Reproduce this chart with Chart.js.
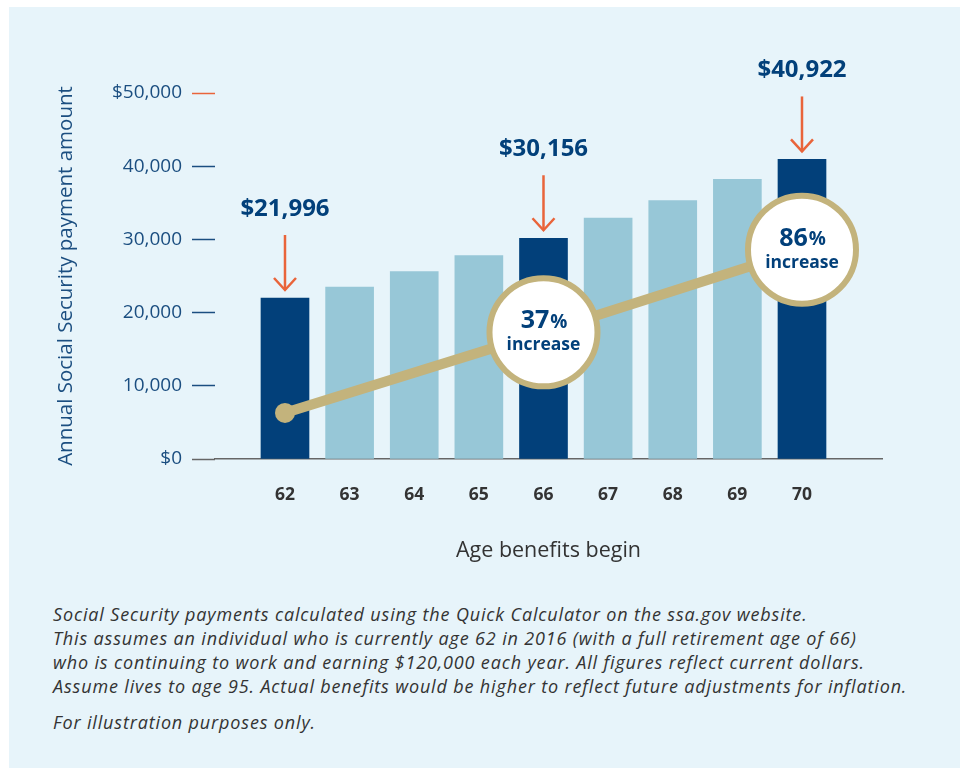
<!DOCTYPE html>
<html>
<head>
<meta charset="utf-8">
<title>Annual Social Security payment by age benefits begin</title>
<script src="https://cdn.jsdelivr.net/npm/chart.js@4"></script>
<style>
  body { margin: 0; background: #fff; font-family: 'Open Sans', sans-serif; }
  .panel { position: absolute; left: 9px; top: 7px; width: 951px; height: 761px; background: #e7f4fa; }
  .chartBox { position: absolute; left: 0; top: 0; width: 951px; height: 575px; }
  .notes { position: absolute; left: 44px; top: 595px; color: #333; font-style: italic; font-size: 18px; letter-spacing: 0.85px; line-height: 24px; white-space: nowrap; }
  .notes p { margin: 0 0 12px; }
</style>
</head>
<body>
<div class="panel">
  <div class="chartBox"><canvas id="chart" width="951" height="575"></canvas></div>
  <div class="notes">
    <p>Social Security payments calculated using the Quick Calculator on the ssa.gov website.<br>
    This assumes an individual who is currently age 62 in 2016 (with a full retirement age of 66)<br>
    who is continuing to work and earning $120,000 each year. All figures reflect current dollars.<br>
    Assume lives to age 95. Actual benefits would be higher to reflect future adjustments for inflation.</p>
    <p>For illustration purposes only.</p>
  </div>
</div>
<script>
const ages = [62, 63, 64, 65, 66, 67, 68, 69, 70];
const benefits = [21996, 23500, 25600, 27800, 30156, 32900, 35300, 38200, 40922];
const highlightAges = [62, 66, 70];
const trendAges = [62, 66, 70];
const trendValues = [6300, 17300, 28600];
const increaseLabels = ['', '37', '86'];
const yTicks = [0, 10000, 20000, 30000, 40000, 50000];

const NAVY = '#02407a';
const NAVY_TEXT = '#1b4e80';
const LIGHT = '#97c7d7';
const GOLD = '#c3b37c';
const ORANGE = '#e9643a';

Chart.defaults.font.family = "'Open Sans', sans-serif";

const money = v => '$' + v.toLocaleString('en-US');

// value labels with arrows, and the text inside the increase circles
const annotations = {
  id: 'annotations',
  afterDatasetsDraw(chart) {
    const {ctx} = chart;
    const lineMeta = chart.getDatasetMeta(0);
    const barMeta = chart.getDatasetMeta(1);
    ctx.save();
    ctx.textAlign = 'center';
    ctx.textBaseline = 'middle';

    barMeta.data.forEach((bar, i) => {
      if (!highlightAges.includes(ages[i])) return;
      const x = bar.x;
      const top = bar.y;
      ctx.fillStyle = NAVY;
      ctx.font = "bold 24px 'Open Sans'";
      ctx.fillText(money(benefits[i]), x, top - 89);

      ctx.strokeStyle = ORANGE;
      ctx.lineWidth = 2.5;
      ctx.beginPath();
      ctx.moveTo(x, top - 63);
      ctx.lineTo(x, top - 8);
      ctx.stroke();
      ctx.beginPath();
      ctx.moveTo(x - 11, top - 20);
      ctx.lineTo(x, top - 8);
      ctx.lineTo(x + 11, top - 20);
      ctx.stroke();
    });

    lineMeta.data.forEach((pt, i) => {
      if (!increaseLabels[i]) return;
      ctx.fillStyle = NAVY;
      ctx.font = "bold 25px 'Open Sans'";
      const num = increaseLabels[i];
      const wNum = ctx.measureText(num).width;
      ctx.font = "bold 19px 'Open Sans'";
      const wPct = ctx.measureText('%').width;
      const left = pt.x - (wNum + wPct) / 2;
      ctx.textAlign = 'left';
      ctx.font = "bold 25px 'Open Sans'";
      ctx.fillText(num, left, pt.y - 11);
      ctx.font = "bold 19px 'Open Sans'";
      ctx.fillText('%', left + wNum + 1, pt.y - 10);
      ctx.textAlign = 'center';
      ctx.font = "bold 17.5px 'Open Sans'";
      ctx.fillText('increase', pt.x, pt.y + 13);
    });
    ctx.restore();
  }
};

new Chart(document.getElementById('chart'), {
  type: 'bar',
  data: {
    datasets: [
      {
        type: 'line',
        label: 'Increase',
        data: trendAges.map((a, i) => ({x: a, y: trendValues[i]})),
        borderColor: GOLD,
        borderWidth: 10,
        pointRadius: [10, 54, 54],
        pointBackgroundColor: [GOLD, '#fff', '#fff'],
        pointBorderColor: GOLD,
        pointBorderWidth: [0, 6, 6],
        clip: false,
        order: 0,
      },
      {
        label: 'Annual payment',
        data: ages.map((a, i) => ({x: a, y: benefits[i]})),
        backgroundColor: ages.map(a => highlightAges.includes(a) ? NAVY : LIGHT),
        barThickness: 48,
        order: 1,
      },
    ],
  },
  options: {
    responsive: false,
    animation: false,
    events: [],
    layout: {padding: {top: 86, right: 78, left: 0, bottom: 0}},
    plugins: {legend: {display: false}, tooltip: {enabled: false}},
    scales: {
      x: {
        type: 'linear',
        min: 60.917,
        max: 71.238,
        offset: false,
        afterBuildTicks: s => { s.ticks = ages.map(v => ({value: v})); },
        afterFit: s => { s.height = 123; },
        ticks: {
          padding: 26,
          color: '#333',
          font: {size: 17.5, weight: 'bold'},
          maxRotation: 0,
          autoSkip: false,
          callback: v => String(v),
        },
        grid: {display: false, drawTicks: false},
        border: {display: true, color: '#666', width: 1.5},
        title: {
          display: true,
          text: 'Age benefits begin',
          color: '#333',
          font: {size: 21.5},
          padding: {top: 0, bottom: 18},
        },
      },
      y: {
        min: 0,
        max: 50000,
        afterBuildTicks: s => { s.ticks = yTicks.map(v => ({value: v})); },
        afterFit: s => { s.width = 206; },
        ticks: {
          padding: 10,
          color: NAVY_TEXT,
          font: {size: 19},
          callback: v => (v === 0 || v === 50000) ? money(v) : v.toLocaleString('en-US'),
        },
        grid: {
          drawOnChartArea: false,
          drawTicks: true,
          tickLength: 23,
          tickWidth: 1.5,
          tickColor: c => c.tick && c.tick.value === 0 ? '#666' : (c.tick && c.tick.value === 50000 ? ORANGE : NAVY_TEXT),
        },
        border: {display: false},
        title: {
          display: true,
          text: 'Annual Social Security payment amount',
          color: NAVY_TEXT,
          font: {size: 20.5},
          padding: {top: 45, bottom: 0},
        },
      },
    },
  },
  plugins: [annotations],
});
</script>
</body>
</html>
